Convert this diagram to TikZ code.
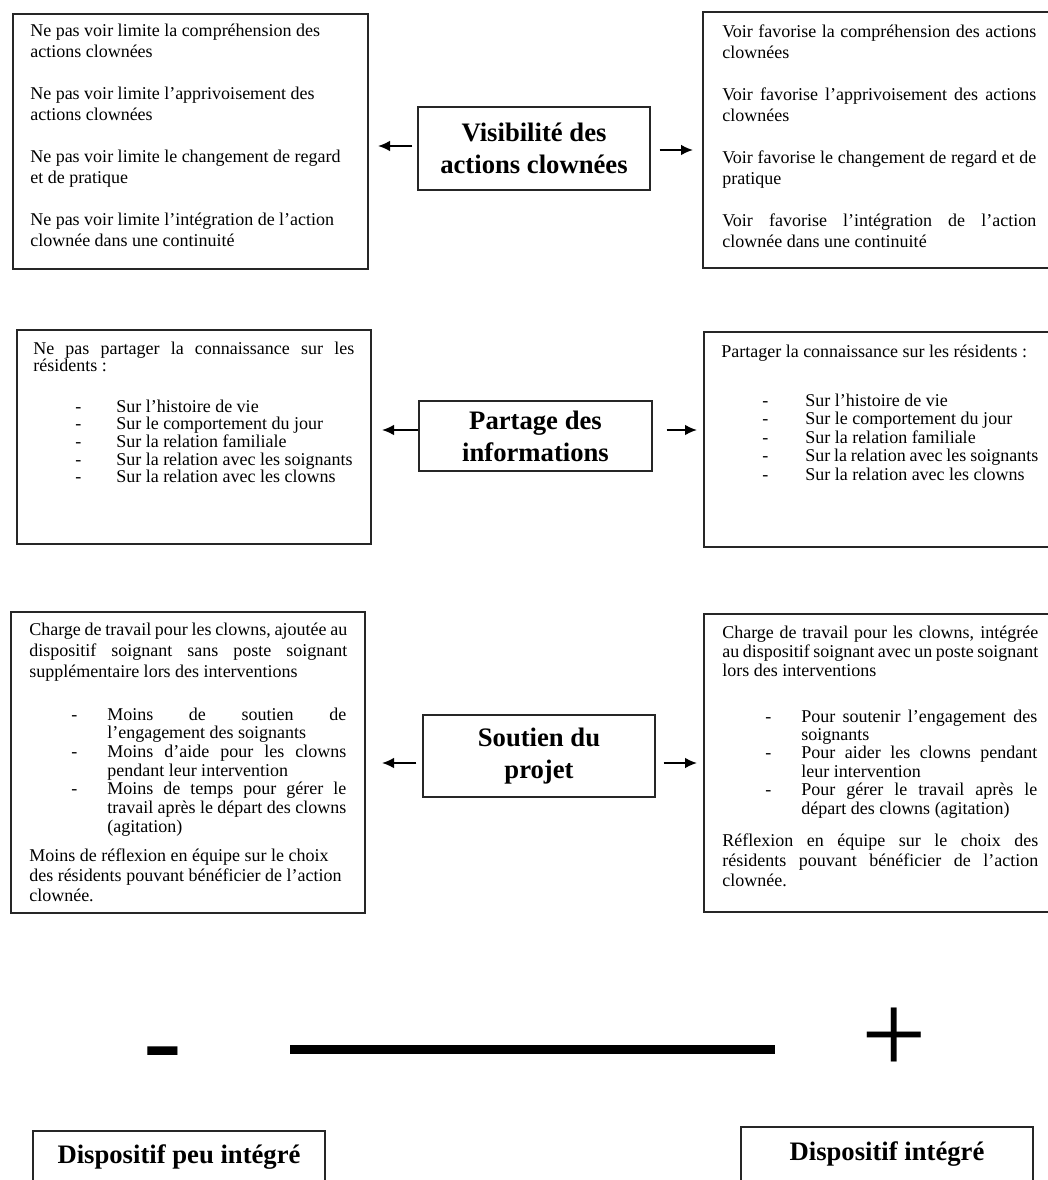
\documentclass[tikz,border=0pt]{standalone}
\usepackage{fontspec}
\setmainfont{Liberation Serif}
\usetikzlibrary{fit,arrows.meta}
\newlength\itind
\newcommand\itm[1]{\hangindent=\itind\hangafter=1\noindent\hbox to\itind{-\hfil}#1\par}
\newcommand\txtsz[1]{\fontsize{13.5}{#1}\selectfont}
\tikzset{
  box/.style={draw=black!85, line width=1pt, inner sep=0pt},
  hd/.style={draw=black!85, line width=1pt, inner sep=0pt, align=center,
    font=\fontsize{20}{24}\selectfont\bfseries},
  body/.style={inner sep=0pt, anchor=base west, align=justify},
  lbl/.style={inner sep=0pt, anchor=base, font=\fontsize{20}{24}\selectfont\bfseries},
  arr/.style={line width=1.3pt, -{Latex[length=9pt,width=8pt]}},
  sign/.style={inner sep=0pt, anchor=base west, font=\fontsize{87}{87}\selectfont}
}
\begin{document}
\begin{tikzpicture}[x=0.75pt, y=-0.75pt]
\useasboundingbox (0,0) rectangle (1048,1180);
\clip (0,0) rectangle (1048,1180);
\fill[white] (0,0) rectangle (1048,1180);

% ---------- Row 1 ----------
\node[box, fit={(13,14) (368,269)}] (l1) {};
\node[body, text width=247.5pt, font=\txtsz{15.75pt}] (l1t) at (30,37) {\setlength\parskip{15.75pt}%
Ne pas voir limite la compréhension des\\ actions clownées\par
Ne pas voir limite l'apprivoisement des\\ actions clownées\par
Ne pas voir limite le changement de regard\\ et de pratique\par
Ne pas voir limite l'intégration de l'action\\ clownée dans une continuité};

\node[box, fit={(703,12) (1060,268)}] (r1) {};
\node[body, text width=235.5pt, font=\txtsz{15.75pt}] (r1t) at (722,38) {\setlength\parskip{15.75pt}%
Voir favorise la compréhension des actions\linebreak clownées\par
Voir favorise l'apprivoisement des actions\linebreak clownées\par
Voir favorise le changement de regard et de\linebreak pratique\par
Voir favorise l'intégration de l'action\linebreak clownée dans une continuité};

\node[hd, minimum width=174pt, minimum height=62.25pt] (c1) at (534,148.5) {Visibilité des\\actions clownées};
\coordinate (a1l) at (378,146);
\coordinate (a1r) at (693,150);
\draw[arr, shorten <=3.75pt] (c1.west |- a1l) -- (a1l);
\draw[arr, shorten <=6.75pt] (c1.east |- a1r) -- (a1r);

% ---------- Row 2 ----------
\node[box, fit={(17,330) (371,544)}] (l2) {};
\node[body, text width=240.75pt, font=\txtsz{13.4pt}] (l2t) at (33,354)
  {Ne pas partager la connaissance sur les\linebreak résidents :};
\node[body, text width=208.5pt, font=\txtsz{13.3pt}] (l2l) at (75,412) {\setlength\itind{30.75pt}%
\itm{Sur l'histoire de vie}
\itm{Sur le comportement du jour}
\itm{Sur la relation familiale}
\itm{Sur la relation avec les soignants}
\itm{Sur la relation avec les clowns}};

\node[box, fit={(704,332) (1060,547)}] (r2) {};
\node[body, text width=237pt, font=\txtsz{13.9pt}] (r2t) at (721,357)
  {Partager la connaissance sur les résidents :};
\node[body, text width=207pt, font=\txtsz{13.9pt}] (r2l) at (762,406) {\setlength\itind{32.25pt}%
\itm{Sur l'histoire de vie}
\itm{Sur le comportement du jour}
\itm{Sur la relation familiale}
\itm{Sur la relation avec les soignants}
\itm{Sur la relation avec les clowns}};

\node[hd, minimum width=174.75pt, minimum height=52.5pt] (c2) at (535.5,436) {Partage des\\informations};
\coordinate (a2l) at (382,430);
\coordinate (a2r) at (697,430);
\draw[arr] (c2.west |- a2l) -- (a2l);
\draw[arr, shorten <=10.5pt] (c2.east |- a2r) -- (a2r);

% ---------- Row 3 ----------
\node[box, fit={(11,612) (365,913)}] (l3) {};
\node[body, text width=238.5pt, font=\txtsz{15.75pt}] (l3t) at (29,635)
  {Charge de travail pour les clowns, ajoutée au\linebreak dispositif soignant sans poste soignant\linebreak supplémentaire lors des interventions};
\node[body, text width=206.25pt, font=\txtsz{14pt}] (l3l) at (71,720) {\setlength\itind{27pt}%
\itm{Moins de soutien de\linebreak l'engagement des soignants}
\itm{Moins d'aide pour les clowns\linebreak pendant leur intervention}
\itm{Moins de temps pour gérer le\linebreak travail après le départ des clowns\linebreak (agitation)}};
\node[body, text width=238.5pt, font=\txtsz{15pt}] (l3e) at (29,861)
  {Moins de réflexion en équipe sur le choix\\ des résidents pouvant bénéficier de l'action\\ clownée.};

\node[box, fit={(704,614) (1060,912)}] (r3) {};
\node[body, text width=237pt, font=\txtsz{14.6pt}] (r3t) at (722,638)
  {Charge de travail pour les clowns, intégrée\linebreak au dispositif soignant avec un poste soignant\linebreak lors des interventions};
\node[body, text width=204pt, font=\txtsz{13.8pt}] (r3l) at (765,722) {\setlength\itind{27pt}%
\itm{Pour soutenir l'engagement des\linebreak soignants}
\itm{Pour aider les clowns pendant\linebreak leur intervention}
\itm{Pour gérer le travail après le\linebreak départ des clowns (agitation)}};
\node[body, text width=237pt, font=\txtsz{15pt}] (r3e) at (722,846)
  {Réflexion en équipe sur le choix des\linebreak résidents pouvant bénéficier de l'action\linebreak clownée.};

\node[hd, minimum width=174pt, minimum height=61.5pt] (c3) at (539,756) {Soutien du\\projet};
\coordinate (a3l) at (382,763);
\coordinate (a3r) at (697,763);
\draw[arr, shorten <=4.5pt] (c3.west |- a3l) -- (a3l);
\draw[arr, shorten <=6pt] (c3.east |- a3r) -- (a3r);

% ---------- Scale ----------
\node[sign] (minus) at (143.5,1078) {-};
\node[sign] (plus) at (861.5,1073) {+};
\coordinate (ls) at (290,1049);
\coordinate (le) at (775,1049);
\draw[line width=6.75pt] (ls) -- (le);

\node[box, fit={(33,1131) (325,1200)}] (b1) {};
\node[lbl] (b1t) at (179,1163) {Dispositif peu intégré};
\node[box, fit={(741,1127) (1033,1200)}] (b2) {};
\node[lbl] (b2t) at (887,1160) {Dispositif intégré};
\end{tikzpicture}
\end{document}
